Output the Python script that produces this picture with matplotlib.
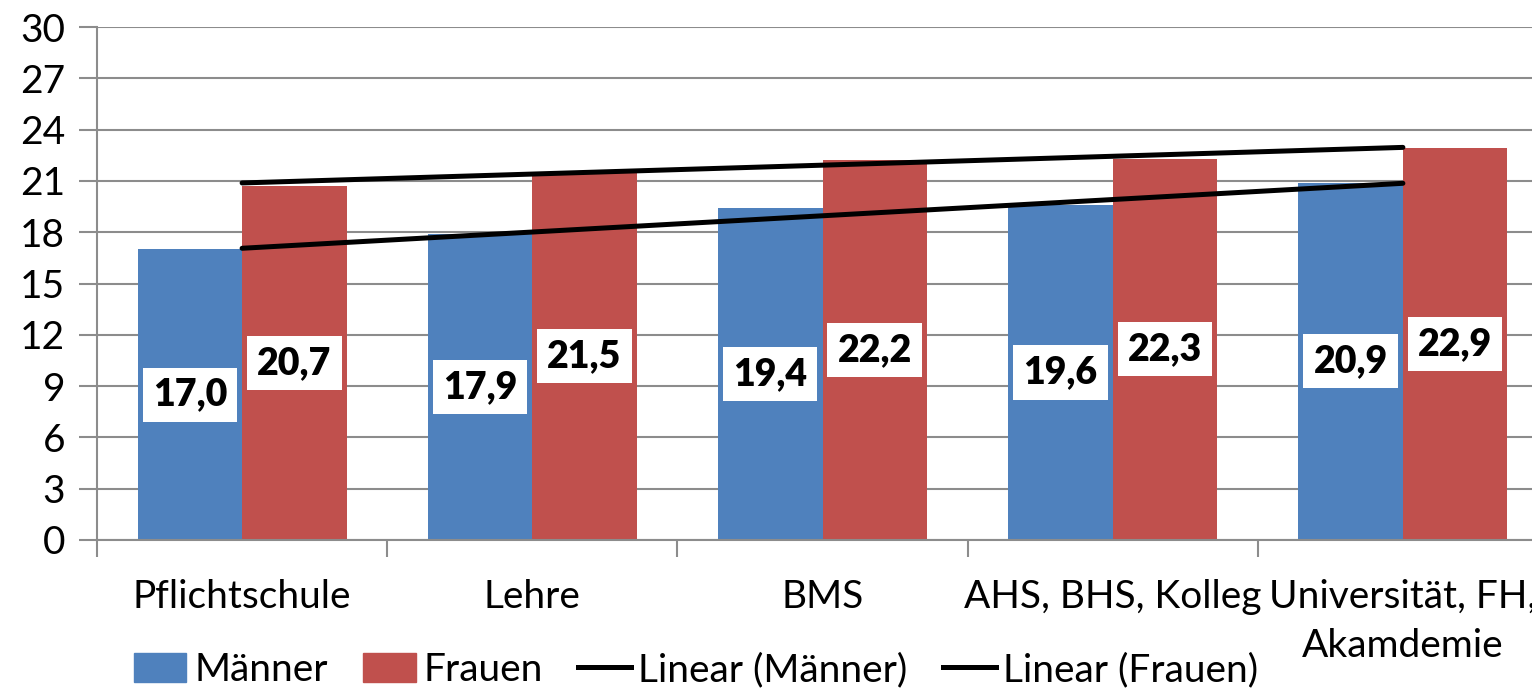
import numpy as np
import matplotlib
matplotlib.use("Agg")
import matplotlib.pyplot as plt
from matplotlib.lines import Line2D
from matplotlib.patches import Patch

categories = ["Pflichtschule", "Lehre", "BMS", "AHS, BHS, Kolleg", "Universität, FH,\nAkamdemie"]
maenner = [17.0, 17.9, 19.4, 19.6, 20.9]
frauen = [20.7, 21.5, 22.2, 22.3, 22.9]
yticks = [0, 3, 6, 9, 12, 15, 18, 21, 24, 27, 30]

BLUE = "#4F81BD"
RED = "#C0504D"
GRID = "#8C8C8C"
FONT = "Lato"
FS = 28
LFS = 27

plt.rcParams['font.family'] = [FONT, 'DejaVu Sans']

fig = plt.figure(figsize=(15.32, 6.89), dpi=100)
ax = fig.add_axes([97/1532, 1-540/689, (1548-97)/1532, (540-27)/689])

x = np.arange(len(categories))
w = 0.36
b1 = ax.bar(x - w/2, maenner, w, color=BLUE, zorder=2)
b2 = ax.bar(x + w/2, frauen, w, color=RED, zorder=2)

# linear trend lines (Excel style)
for vals in (maenner, frauen):
    k, d = np.polyfit(x, vals, 1)
    ax.plot([x[0], x[-1]], [k*x[0]+d, k*x[-1]+d], color="black", lw=3.6,
            solid_capstyle="round", zorder=3)

def fmt(v):
    return f"{v:.1f}".replace(".", ",")

for bars, vals in ((b1, maenner), (b2, frauen)):
    for r, v in zip(bars, vals):
        ax.text(r.get_x() + r.get_width()/2, v/2, fmt(v), ha="center", va="center",
                fontsize=LFS, fontweight="heavy", zorder=4,
                bbox=dict(boxstyle="square,pad=0.27", fc="white", ec="none"))

ax.set_xlim(-0.5, len(categories) - 0.5)
ax.set_ylim(0, 30)
ax.set_yticks(yticks)
ax.set_yticklabels([str(t) for t in yticks], fontsize=FS)
ax.yaxis.grid(True, color=GRID, lw=1.5, zorder=0)
ax.set_axisbelow(True)

ax.set_xticks(np.arange(len(categories) + 1) - 0.5)
ax.set_xticklabels([])
ax.set_xticks(x, minor=True)
ax.set_xticklabels(categories, minor=True, fontsize=FS, linespacing=1.45)
ax.tick_params(axis="x", which="minor", length=0, pad=28)
ax.tick_params(axis="x", which="major", length=12, width=1.5, color=GRID)
ax.tick_params(axis="y", length=13, width=1.5, color=GRID, pad=10)

for s in ("top", "right"):
    ax.spines[s].set_visible(False)
for s in ("left", "bottom"):
    ax.spines[s].set_color(GRID)
    ax.spines[s].set_linewidth(1.5)

handles = [Patch(color=BLUE), Patch(color=RED),
           Line2D([], [], color="black", lw=3.6),
           Line2D([], [], color="black", lw=3.6)]
labels = ["Männer", "Frauen", "Linear (Männer)", "Linear (Frauen)"]
fig.legend(handles, labels, loc="center", bbox_to_anchor=(696/1532, 1-670/689),
           ncol=4, frameon=False, fontsize=FS, handlelength=1.36, handleheight=0.8,
           handletextpad=0.2, columnspacing=0.9, borderpad=0)

fig.savefig("out.png", dpi=100)
